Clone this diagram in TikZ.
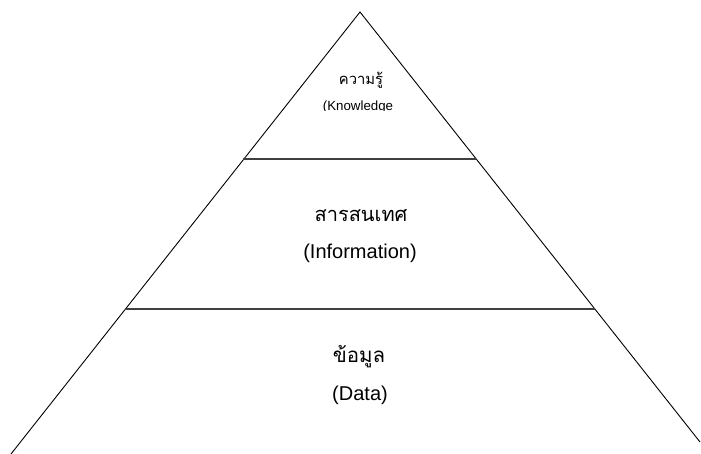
\documentclass[tikz,border=0pt]{standalone}
\usepackage{fontspec}
\setmainfont{Liberation Sans}
\newfontfamily\thaifont[Script=Thai]{Loma}
\begin{document}
\begin{tikzpicture}[x=1pt,y=-1pt,
  side/.style={line width=0.9pt,draw=black},
  level/.style={line width=1.4pt,draw=black!75},
  thai/.style={font=\thaifont\fontsize{#1}{#1}\selectfont,inner sep=0pt},
  latin/.style={font=\fontsize{#1}{#1}\selectfont,inner sep=0pt}]
\useasboundingbox (0,0) rectangle (701,454);
\coordinate (apex) at (360,12);
\coordinate (bl) at (11,454);
\coordinate (br) at (700,442);
\coordinate (l1) at (243,159);
\coordinate (r1) at (476,159);
\coordinate (l2) at (125,309);
\coordinate (r2) at (595,309);
\draw[side] (bl) -- (apex) -- (br);
\draw[level] (l1) -- (r1);
\draw[level] (l2) -- (r2);
\node[thai=14.8] (k1) at (361,80) {ความรู้};
\begin{scope}
\clip (300,95) rectangle (420,111);
\node[latin=13.3,anchor=north] (k2) at (358,100.5) {(Knowledge};
\end{scope}
\node[thai=20] (i1) at (361,216) {สารสนเทศ};
\node[latin=20] (i2) at (360,253) {(Information)};
\node[thai=20.5] (d1) at (359,357) {ข้อมูล};
\node[latin=20] (d2) at (360,395) {(Data)};
\end{tikzpicture}
\end{document}
